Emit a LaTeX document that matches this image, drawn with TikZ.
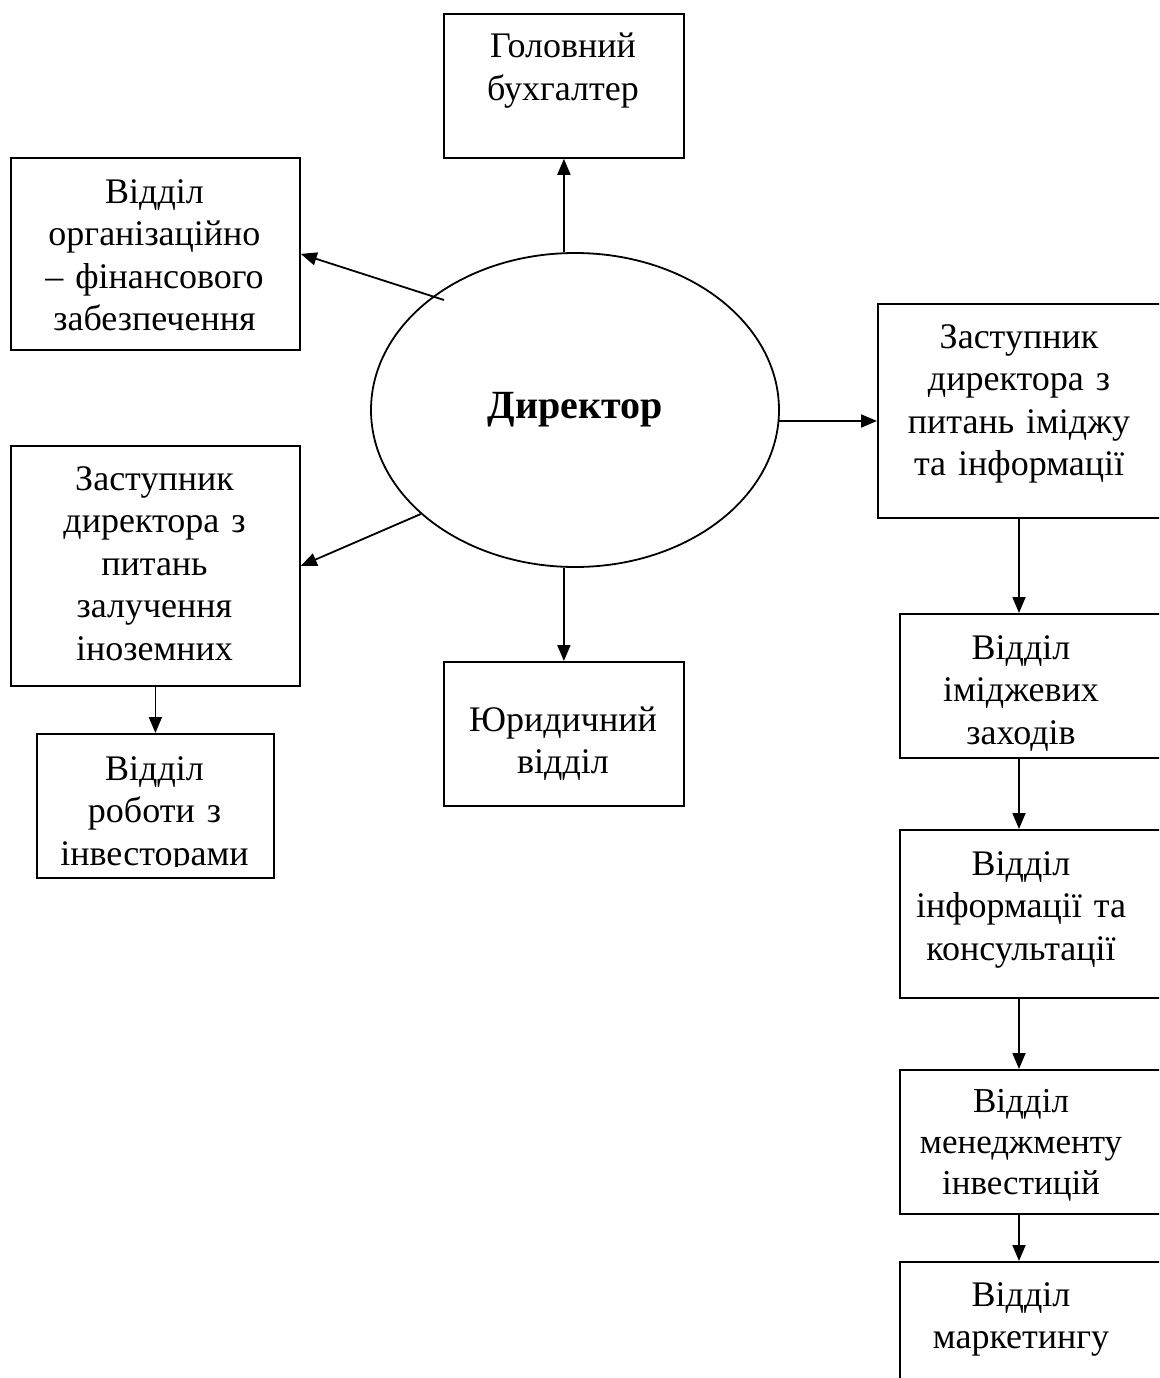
\documentclass[tikz,border=0pt]{standalone}
\usepackage{fontspec}
\setmainfont{Liberation Serif}
\usetikzlibrary{arrows.meta,shapes.geometric}
\begin{document}
\begin{tikzpicture}[x=1pt,y=-1pt,
  box/.style={draw, line width=1.8pt, inner sep=0pt, anchor=north west},
  txt/.style={anchor=base, align=center, text width=280pt, inner sep=0pt,
              font=\fontsize{36}{42.5}\selectfont},
  smalltxt/.style={txt, font=\fontsize{35}{41}\selectfont},
  arr/.style={line width=1.8pt, -{Triangle[length=16pt,width=13pt]}}]
% page frame
\clip (0,0) rectangle (1159,1378);
\useasboundingbox (0,0) rectangle (1159,1378);

% central node
\node[ellipse, draw, line width=1.8pt, minimum width=408pt, minimum height=314pt,
      inner sep=0pt, font=\fontsize{40}{46}\selectfont\bfseries] (dir) at (575,410) {Директор};

% boxes around the director
\node[box, minimum width=240pt, minimum height=144pt] (gb) at (443,13) {};
\node[box, minimum width=289pt, minimum height=192pt] (org) at (10,157) {};
\node[box, minimum width=289pt, minimum height=240pt] (dep) at (10,445) {};
\node[box, minimum width=237pt, minimum height=144pt] (inv) at (36,733) {};
\node[box, minimum width=240pt, minimum height=144pt] (jur) at (443,661) {};

% right-hand column (runs past the right edge)
\coordinate (spine) at (1019,0);
\node[box, minimum width=330pt, minimum height=214pt] (rdep) at (877,303) {};
\node[box, minimum width=310pt, minimum height=144pt] (img) at (899,613) {};
\node[box, minimum width=310pt, minimum height=168pt] (inf) at (899,829) {};
\node[box, minimum width=310pt, minimum height=144pt] (men) at (899,1069) {};
\node[box, minimum width=310pt, minimum height=160pt] (mkt) at (899,1261) {};

% texts
\node[txt] (gbT) at (563,58) {Головний\\бухгалтер};
\node[txt] (orgT) at (154.5,203) {Відділ\\організаційно\\– фінансового\\забезпечення};
\node[txt] (depT) at (154.5,490) {Заступник\\директора з\\питань\\залучення\\іноземних};
\begin{scope}
  \clip (36,733) rectangle (273,866);
  \node[txt] (invT) at (154.5,780) {Відділ\\роботи з\\інвесторами};
\end{scope}
\node[txt] (jurT) at (563,731) {Юридичний\\відділ};
\node[txt] (rdepT) at (1019,348) {Заступник\\директора з\\питань іміджу\\та інформації};
\node[txt] (imgT) at (1021,659) {Відділ\\іміджевих\\заходів};
\node[txt] (infT) at (1021,875) {Відділ\\інформації та\\консультації};
\node[smalltxt] (menT) at (1021,1112) {Відділ\\менеджменту\\інвестицій};
\node[txt] (mktT) at (1021,1306) {Відділ\\маркетингу};

% connectors from the director
\coordinate (s1) at (444,300);
\coordinate (s2) at (779,421);
\draw[arr] (gb.south |- dir.north) -- (gb.south);
\draw[arr] (s1) -- (org.east);
\draw[arr] (dir.214) -- (dep.east);
\draw[arr] (jur.north |- dir.south) -- (jur.north);
\draw[arr] (s2) -- (rdep.west |- s2);

% connectors down the columns
\draw[arr] (dep.south) -- (inv.north);
\draw[arr] (rdep.south -| spine) -- (img.north -| spine);
\draw[arr] (img.south -| spine) -- (inf.north -| spine);
\draw[arr] (inf.south -| spine) -- (men.north -| spine);
\draw[arr] (men.south -| spine) -- (mkt.north -| spine);
\end{tikzpicture}
\end{document}
